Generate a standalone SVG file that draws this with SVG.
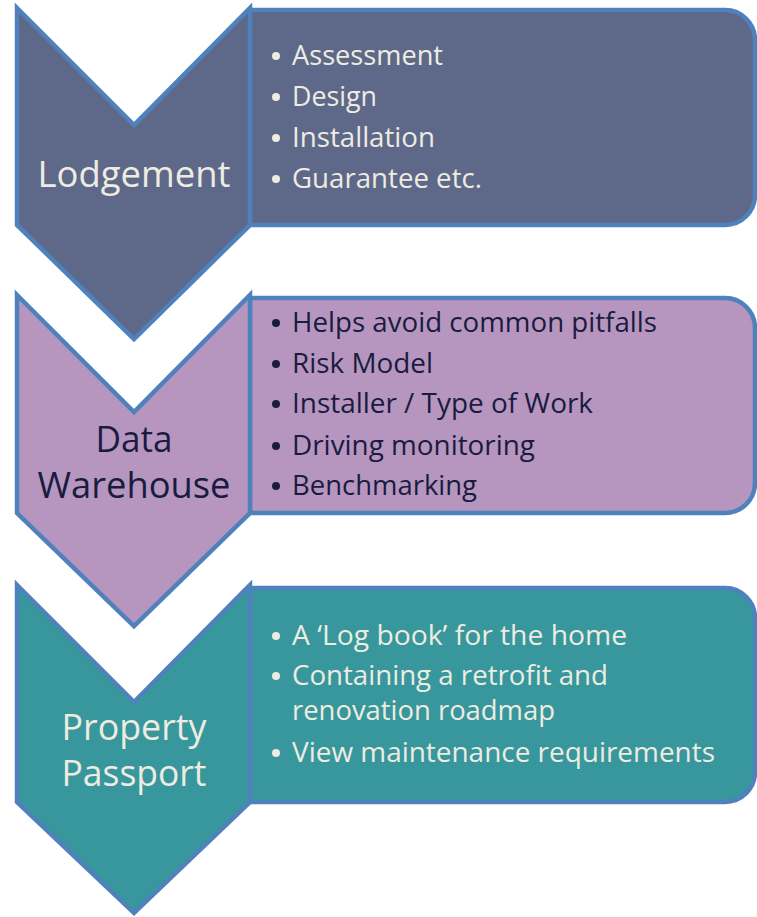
<svg xmlns="http://www.w3.org/2000/svg" width="757" height="917" viewBox="0 0 757 917">
<style>
.sh{stroke:#4F81BD;stroke-width:4.5;stroke-linejoin:miter}
.c1{fill:#5E6889}.c2{fill:#B696BF}.c3{fill:#37979C}
.lab{font-family:"Open Sans","Noto Sans",sans-serif;font-size:37px;text-anchor:middle}
.bt{font-family:"Open Sans","Noto Sans",sans-serif;font-size:27px}
.lt{fill:#EEECE1}.dk{fill:#1A1B40}
</style>
<rect width="757" height="917" fill="#FFFFFF"/>
<g id="panel1">
<path class="sh c1" d="M250,10 H725 A30,30 0 0 1 755,40 V195 A30,30 0 0 1 725,225 H250 Z"/>
<g class="lt">
<circle cx="276" cy="56" r="4"/><circle cx="276" cy="97" r="4"/><circle cx="276" cy="138" r="4"/><circle cx="276" cy="179" r="4"/>
</g>
<text class="bt lt" x="292" y="65" textLength="151" lengthAdjust="spacingAndGlyphs">Assessment</text>
<text class="bt lt" x="292" y="106" textLength="85" lengthAdjust="spacingAndGlyphs">Design</text>
<text class="bt lt" x="292" y="147" textLength="143" lengthAdjust="spacingAndGlyphs">Installation</text>
<text class="bt lt" x="292" y="188" textLength="190" lengthAdjust="spacingAndGlyphs">Guarantee etc.</text>
</g>
<g id="chevron1">
<polygon class="sh c1" points="17,8 134,125 250,8 250,225 134,339 17,225"/>
<text class="lab lt" x="134" y="187" textLength="193" lengthAdjust="spacingAndGlyphs">Lodgement</text>
</g>
<g id="panel2">
<path class="sh c2" d="M250,298 H725 A30,30 0 0 1 755,328 V483 A30,30 0 0 1 725,513 H250 Z"/>
<g class="dk">
<circle cx="276" cy="323" r="4"/><circle cx="276" cy="364" r="4"/><circle cx="276" cy="404" r="4"/><circle cx="276" cy="446" r="4"/><circle cx="276" cy="486" r="4"/>
</g>
<text class="bt dk" x="292" y="332" textLength="365" lengthAdjust="spacingAndGlyphs">Helps avoid common pitfalls</text>
<text class="bt dk" x="292" y="373" textLength="141" lengthAdjust="spacingAndGlyphs">Risk Model</text>
<text class="bt dk" x="292" y="413" textLength="301" lengthAdjust="spacingAndGlyphs">Installer / Type of Work</text>
<text class="bt dk" x="292" y="455" textLength="243" lengthAdjust="spacingAndGlyphs">Driving monitoring</text>
<text class="bt dk" x="292" y="495" textLength="185" lengthAdjust="spacingAndGlyphs">Benchmarking</text>
</g>
<g id="chevron2">
<polygon class="sh c2" points="17,295 134,412 250,295 250,513 134,626 17,513"/>
<text class="lab dk" x="134" y="452" textLength="77" lengthAdjust="spacingAndGlyphs">Data</text>
<text class="lab dk" x="134" y="498" textLength="193" lengthAdjust="spacingAndGlyphs">Warehouse</text>
</g>
<g id="panel3">
<path class="sh c3" d="M250,588 H725 A30,30 0 0 1 755,618 V772 A30,30 0 0 1 725,802 H250 Z"/>
<g class="lt">
<circle cx="276" cy="636" r="4"/><circle cx="276" cy="676" r="4"/><circle cx="276" cy="753" r="4"/>
</g>
<text class="bt lt" x="292" y="645" textLength="335" lengthAdjust="spacingAndGlyphs">A ‘Log book’ for the home</text>
<text class="bt lt" x="292" y="685" textLength="316" lengthAdjust="spacingAndGlyphs">Containing a retrofit and</text>
<text class="bt lt" x="292" y="720" textLength="263" lengthAdjust="spacingAndGlyphs">renovation roadmap</text>
<text class="bt lt" x="292" y="762" textLength="423" lengthAdjust="spacingAndGlyphs">View maintenance requirements</text>
</g>
<g id="chevron3">
<polygon class="sh c3" points="17,585 134,702 250,585 250,802 134,913 17,802"/>
<text class="lab lt" x="134" y="740" textLength="145" lengthAdjust="spacingAndGlyphs">Property</text>
<text class="lab lt" x="134" y="786" textLength="145" lengthAdjust="spacingAndGlyphs">Passport</text>
</g>
<g id="connectors"/>
</svg>
